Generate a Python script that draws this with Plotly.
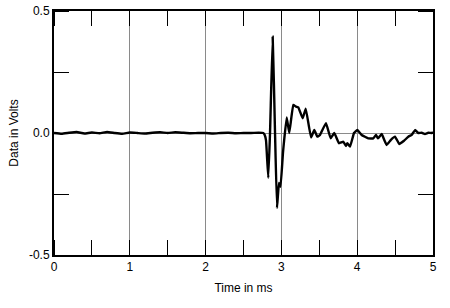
import plotly.graph_objects as go

# Time in ms and data in volts
time_ms = [0.00, 0.10, 0.20, 0.30, 0.40, 0.50, 0.60, 0.70, 0.80, 0.90, 1.00, 1.10, 1.20, 1.30,
           1.40, 1.50, 1.60, 1.70, 1.80, 1.90, 2.00, 2.10, 2.20, 2.30, 2.40, 2.50, 2.60, 2.70,
           2.761, 2.780, 2.797, 2.827, 2.850, 2.885, 2.916, 2.942, 2.968, 2.988, 3.021, 3.070,
           3.104, 3.157, 3.193, 3.223, 3.281, 3.321, 3.391, 3.434, 3.474, 3.509, 3.588, 3.650,
           3.698, 3.760, 3.817, 3.852, 3.870, 3.905, 3.958, 4.001, 4.059, 4.146, 4.212, 4.248,
           4.274, 4.323, 4.354, 4.389, 4.442, 4.499, 4.555, 4.617, 4.674, 4.719, 4.763, 4.806,
           4.851, 4.894, 4.938, 4.983, 5.00]
volts = [0.000, -0.003, 0.001, 0.004, -0.002, 0.002, -0.001, 0.004, 0.000, -0.003, 0.002, 0.000,
         -0.002, 0.001, 0.003, 0.000, 0.003, 0.001, -0.001, 0.000, 0.000, -0.002, 0.000, 0.001,
         -0.001, 0.000, 0.000, 0.001,
         0.000, -0.008, -0.030, -0.184, 0.000, 0.395, 0.000, -0.307, -0.205, -0.220, -0.080, 0.064,
         0.000, 0.115, 0.108, 0.105, 0.060, 0.100, -0.018, 0.012, -0.015, -0.008, 0.040, -0.022,
         0.000, -0.042, -0.036, -0.053, -0.042, -0.056, 0.000, 0.012, -0.008, -0.022, -0.022, -0.008,
         -0.022, -0.004, -0.026, -0.049, -0.029, -0.015, -0.045, -0.032, -0.015, -0.008, 0.012, 0.000,
         0.001, -0.004, 0.001, 0.000, 0.003]

x_ticks = [0, 1, 2, 3, 4, 5]
y_ticks = [-0.5, 0.0, 0.5]
y_tick_text = ["-0.5", "0.0", "0.5"]

fig = go.Figure(go.Scatter(x=time_ms, y=volts, mode="lines",
                           line=dict(color="black", width=2.4, shape="spline", smoothing=0.3),
                           hoverinfo="skip"))

font = dict(family="Liberation Sans, Arial, sans-serif", size=12, color="black")

fig.update_layout(
    width=450, height=308,
    margin=dict(l=54, r=17, t=11, b=53),
    paper_bgcolor="white", plot_bgcolor="white",
    showlegend=False, font=font,
    xaxis=dict(range=[0, 5], tickvals=x_ticks, ticktext=[str(v) for v in x_ticks],
               ticks="", showgrid=True, gridcolor="#8a8a8a", gridwidth=1, automargin=False,
               zeroline=False, showline=True, linecolor="black", linewidth=2, mirror="ticks",
               minor=dict(dtick=0.5, tick0=0, ticks="inside", ticklen=15, tickcolor="black",
                          tickwidth=1, showgrid=False),
               title=dict(text="Time in ms", font=font, standoff=10)),
    yaxis=dict(range=[-0.5, 0.5], tickvals=y_ticks, ticktext=y_tick_text,
               ticks="", showgrid=False, zeroline=True, zerolinecolor="#8a8a8a", zerolinewidth=1,
               automargin=False,
               showline=True, linecolor="black", linewidth=2, mirror="ticks",
               minor=dict(dtick=0.25, tick0=0, ticks="inside", ticklen=15, tickcolor="black",
                          tickwidth=1, showgrid=False),
               title=dict(text="Data in Volts", font=font, standoff=8)),
)

fig.write_html("out.html")
